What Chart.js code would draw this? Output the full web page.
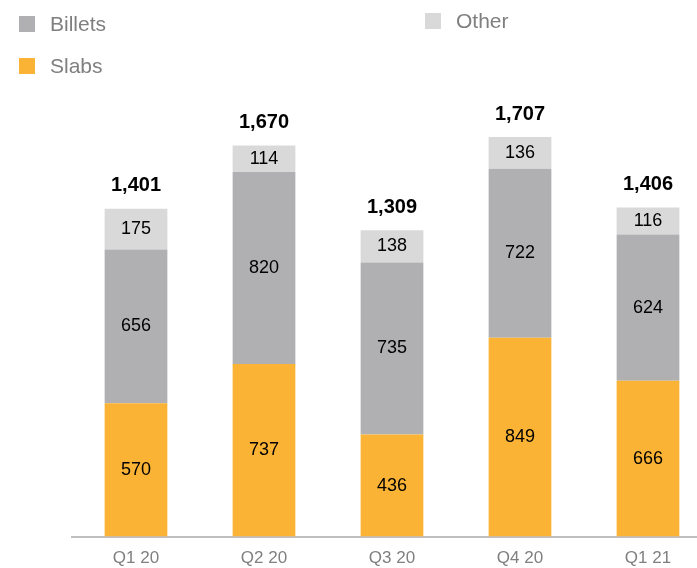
<!DOCTYPE html>
<html>
<head>
<meta charset="utf-8">
<script src="https://cdn.jsdelivr.net/npm/chart.js@4"></script>
<style>
  body { margin: 0; overflow: hidden; background: #fff; font-family: Arial, "Liberation Sans", sans-serif; }
  #wrap { position: relative; width: 697px; height: 568px; overflow: hidden; }
  #chart { position: absolute; left: 0; top: 0; }
  .lg { position: absolute; font-size: 21px; color: #7f7f7f; line-height: 24px; }
  .lg i { position: absolute; left: -31px; top: 4px; width: 16px; height: 16px; }
</style>
</head>
<body>
<div id="wrap">
  <canvas id="chart" width="745" height="573"></canvas>
  <div id="legend"></div>
</div>
<script>
// data
const quarters = ['Q1 20', 'Q2 20', 'Q3 20', 'Q4 20', 'Q1 21'];
const slabs = [570, 737, 436, 849, 666];
const billets = [656, 820, 735, 722, 624];
const other = [175, 114, 138, 136, 116];
const totals = [1401, 1670, 1309, 1707, 1406];

const colSlabs = '#fbb336';
const colBillets = '#b0b0b2';
const colOther = '#d9d9d9';

// legend as html, same odd layout as the original slide
const legendItems = [
  { text: 'Billets', color: colBillets, x: 50, y: 12 },
  { text: 'Slabs', color: colSlabs, x: 50, y: 54 },
  { text: 'Other', color: colOther, x: 456, y: 9 }
];
let lgHtml = '';
legendItems.forEach(function(it) {
  lgHtml += '<div class="lg" style="left:' + it.x + 'px;top:' + it.y + 'px"><i style="background:' + it.color + '"></i>' + it.text + '</div>';
});
document.getElementById('legend').innerHTML = lgHtml;

function fmt(v) {
  return v.toLocaleString('en-US');
}

// numbers inside the segments and totals on top
const labelPlugin = {
  id: 'labels',
  afterDatasetsDraw(chart) {
    const ctx = chart.ctx;
    ctx.save();
    ctx.textAlign = 'center';
    ctx.textBaseline = 'middle';
    ctx.fillStyle = '#000';
    ctx.font = '18px Arial, "Liberation Sans"';
    chart.data.datasets.forEach(function(ds, i) {
      chart.getDatasetMeta(i).data.forEach(function(bar, j) {
        const mid = (bar.y + bar.base) / 2;
        ctx.fillText(fmt(ds.data[j]), bar.x, mid);
      });
    });
    ctx.font = 'bold 20px Arial, "Liberation Sans"';
    const top = chart.getDatasetMeta(2).data;
    top.forEach(function(bar, j) {
      ctx.fillText(fmt(totals[j]), bar.x, bar.y - 23);
    });
    ctx.restore();
  }
};

const ctx = document.getElementById('chart').getContext('2d');
window.myChart = new Chart(ctx, {
  type: 'bar',
  data: {
    labels: quarters,
    datasets: [
      { label: 'Slabs', data: slabs, backgroundColor: colSlabs },
      { label: 'Billets', data: billets, backgroundColor: colBillets },
      { label: 'Other', data: other, backgroundColor: colOther }
    ]
  },
  options: {
    responsive: false,
    animation: false,
    layout: { padding: { left: 72, right: 33, top: 93, bottom: 0 } },
    datasets: { bar: { barPercentage: 0.49, categoryPercentage: 1 } },
    plugins: {
      legend: { display: false },
      tooltip: { enabled: false }
    },
    scales: {
      x: {
        stacked: true,
        grid: { display: false },
        border: { display: true, color: '#bfbfbf', width: 2 },
        ticks: { color: '#7f7f7f', font: { size: 17, family: 'Arial, "Liberation Sans"' }, padding: 4 }
      },
      y: {
        stacked: true,
        display: false,
        min: 0,
        max: 1895
      }
    }
  },
  plugins: [labelPlugin]
});
</script>
</body>
</html>
